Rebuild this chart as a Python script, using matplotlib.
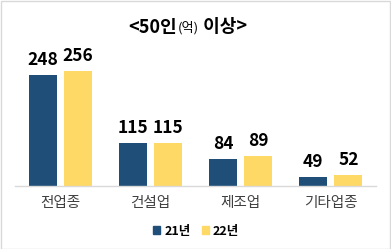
import matplotlib
matplotlib.use("Agg")
import matplotlib.pyplot as plt
import numpy as np

plt.rcParams['font.family'] = ['Noto Sans CJK KR', 'DejaVu Sans']

categories = ['전업종', '건설업', '제조업', '기타업종']
series_names = ['21년', '22년']
v21 = [248, 115, 84, 49]
v22 = [256, 115, 89, 52]
colors = ['#1F4E79', '#FFD966']

W, H = 391, 249
fig = plt.figure(figsize=(W/100, H/100), dpi=100)
# axes: left 15px, right 376px, baseline y=186px, top y=40px
ax = fig.add_axes([15/W, (H-186)/H, (376-15)/W, (186-40)/H])
x = np.arange(len(categories))
bw = 0.31
off = 0.195
for vals, c, o in [(v21, colors[0], -off), (v22, colors[1], off)]:
    ax.bar(x + o, vals, width=bw, color=c, bottom=0, zorder=2)
    for xi, v in zip(x + o, vals):
        ax.annotate(str(v), (xi, v), xytext=(0, 4.5), textcoords='offset points',
                    ha='center', va='bottom', fontsize=12.5, fontweight='bold', color='black')
ax.set_ylim(31, 316.7)
ax.set_xlim(-0.5, 3.5)
for s in ['top', 'right', 'left']:
    ax.spines[s].set_visible(False)
ax.spines['bottom'].set_color('#D9D9D9')
ax.spines['bottom'].set_linewidth(1)
ax.set_yticks([])
ax.set_xticks(x)
ax.set_xticklabels(categories, fontsize=10.5, color='#404040')
ax.tick_params(axis='x', length=0, pad=7)

# title
t1 = fig.text(128/W, 1 - 27/H, '<50인', fontsize=13, fontweight='bold', ha='left', va='center')
t2 = fig.text(0, 0, '(억)', fontsize=9.5, ha='left', va='center')
t3 = fig.text(0, 0, ' 이상>', fontsize=13, fontweight='bold', ha='left', va='center')
fig.canvas.draw()
r = fig.canvas.get_renderer()
bb1 = t1.get_window_extent(r)
t2.set_position(((bb1.x1 + 1) / W, 1 - 28/H))
fig.canvas.draw()
bb2 = t2.get_window_extent(r)
t3.set_position((bb2.x1 / W, 1 - 27/H))

# legend
from matplotlib.patches import Patch
handles = [Patch(color=c) for c in colors]
fig.legend(handles, series_names, loc='center', bbox_to_anchor=(196/W, 1 - 231/H),
           ncol=2, frameon=False, prop={'size': 9, 'weight': 'bold'},
           handlelength=0.55, handleheight=0.55,
           handletextpad=0.35, columnspacing=0.9)

# border
fig.patches.append(plt.Rectangle((0.5/W, 0.5/H), 1 - 1.5/W, 1 - 1.5/H, transform=fig.transFigure,
                                 fill=False, edgecolor='#D9D9D9', linewidth=1))
fig.savefig('out.png', dpi=100)
